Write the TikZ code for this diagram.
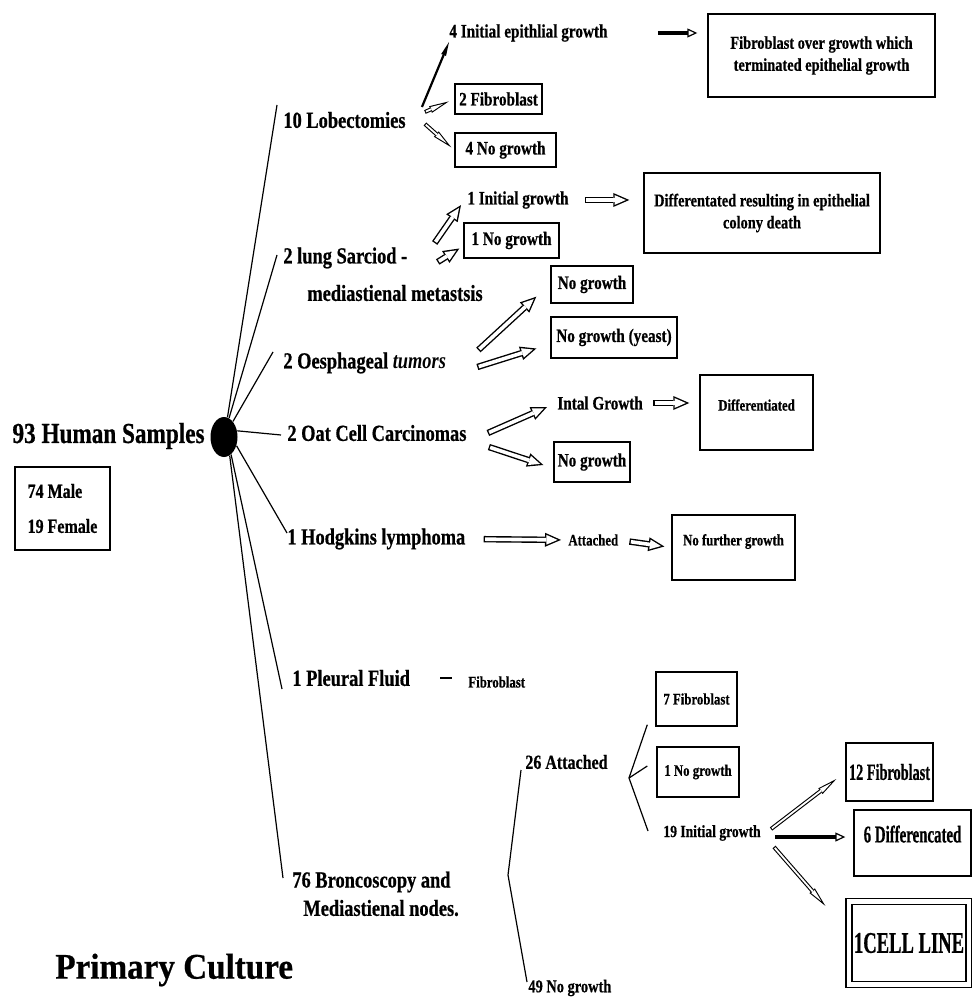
\documentclass[tikz,border=0pt]{standalone}
\usepackage{fontspec}
\setmainfont{Liberation Serif}[FakeStretch=0.8, BoldFeatures={FakeBold=0.6}]
\newfontfamily\widefont{Liberation Serif}[FakeStretch=0.92, BoldFeatures={FakeBold=0.6}]
\newfontfamily\narrowfont{Liberation Serif}[FakeStretch=0.62, BoldFeatures={FakeBold=0.6}]
\usetikzlibrary{arrows.meta,shapes.geometric}

\tikzset{
  spoke/.style={line width=0.6pt},
  box/.style={draw, line width=0.7pt, inner sep=0pt, align=center},
  big/.style={font=\bfseries\fontsize{14.5}{17}\selectfont, inner sep=0pt},
  lvlone/.style={font=\bfseries\fontsize{11.5}{13}\selectfont, anchor=west, inner sep=0pt},
  lvltwo/.style={font=\bfseries\fontsize{9.5}{11}\selectfont, inner sep=0pt},
  boxtext/.style={font=\bfseries\fontsize{9}{11}\selectfont},
  small/.style={font=\bfseries\fontsize{8}{10}\selectfont, inner sep=0pt},
  hollow/.style 2 args={line width=3.2pt, shorten <=#1, shorten >=#2,
    -{Triangle[length=8pt,width=7pt,line width=0pt]},
    postaction={draw=white, line width=1.8pt, shorten <=#1+0.7pt, shorten >=#2+1.75pt,
      -{Triangle[length=5.55pt,width=4.86pt,line width=0pt]}}},
  needle/.style 2 args={line width=2pt, shorten <=#1, shorten >=#2,
    -{Triangle[length=10pt,width=3.6pt,line width=0pt]},
    postaction={draw=white, line width=0.9pt, shorten <=#1+0.55pt, shorten >=#2+3.1pt,
      -{Triangle[length=6.35pt,width=2.3pt,line width=0pt]}}},
  dart/.style={line width=1.1pt, -{Triangle[length=7pt,width=2.6pt,line width=0pt]}},
  blackarrow/.style={line width=1.8pt, -{Triangle[open,length=5pt,width=4.5pt,line width=0.6pt]}},
}

\begin{document}
\begin{tikzpicture}[x=0.5pt,y=-0.5pt]
  \useasboundingbox (0,0) rectangle (972,999);

  % root
  \node[ellipse, fill, minimum width=13.5pt, minimum height=20pt, inner sep=0pt] (hub) at (224,437) {};
  \node[big, anchor=east] (samples) at (205,436) {93 Human Samples};
  \node[box, font=\bfseries\fontsize{10}{17.5}\selectfont, align=left,
        minimum width=47.5pt, minimum height=41.5pt] (sex) at (62.5,508.5) {74 Male\\19 Female};
  \node[font=\widefont\bfseries\fontsize{18}{20}\selectfont, anchor=west, inner sep=0pt] (prim) at (55,970) {Primary Culture};

  % first level
  \node[lvlone] (lob) at (283,120) {10 Lobectomies};
  \node[lvlone] (sarc) at (283,258) {2 lung Sarciod -};
  \node[lvlone] (sarcb) at (307,293) {mediastienal metastsis};
  \node[lvlone] (oes) at (283,363) {2 Oesphageal \textit{tumors}};
  \node[lvlone] (oat) at (287,433) {2 Oat Cell Carcinomas};
  \node[lvlone] (hodg) at (287,539) {1 Hodgkins lymphoma};
  \node[lvlone] (pleu) at (292,678) {1 Pleural Fluid};
  \node[lvlone] (bron) at (292,882) {76 Broncoscopy and};
  \node[lvlone] (bronb) at (303,908) {Mediastienal nodes.};

  \draw[spoke] (hub.80) -- ([shift={(-6,-15)}]lob.west);
  \draw[spoke] (hub.75) -- ([shift={(-6,-3)}]sarc.west);
  \draw[spoke] (hub.60) -- ([shift={(-10,-11)}]oes.west);
  \draw[spoke] (hub.25) -- ([shift={(-6,2)}]oat.west);
  \draw[spoke] (hub.-35) -- ([shift={(0,-6)}]hodg.west);
  \draw[spoke] (hub.-68) -- ([shift={(-10,11)}]pleu.west);
  \draw[spoke] (hub.-73) -- ([shift={(-9,-4)}]bron.west);

  % lobectomies
  \node[lvltwo, anchor=west] (init4) at (449,33) {4 Initial epithlial growth};
  \node[box, boxtext, minimum width=113.5pt, minimum height=41.5pt] (over) at (821.5,55.5)
       {Fibroblast over growth which\\terminated epithelial growth};
  \node[box, lvltwo, minimum width=43.5pt, minimum height=15pt] (fib2) at (498.5,99) {2 Fibroblast};
  \node[box, lvltwo, minimum width=50.5pt, minimum height=17pt] (nog4) at (505.5,150) {4 No growth};
  \draw[dart] ([shift={(16,-13)}]lob.east) -- (init4.south west);
  \draw[needle={0pt}{3pt}] ([shift={(19,-8)}]lob.east) -- (fib2.west);
  \draw[needle={0pt}{2pt}] ([shift={(19,4)}]lob.east) -- (nog4.west);
  \draw[blackarrow, shorten <=25pt, shorten >=5pt] (init4.east) -- (init4.east -| over.west);

  % sarciod
  \node[lvltwo, anchor=west] (init1) at (467,200) {1 Initial growth};
  \node[box, boxtext, minimum width=118pt, minimum height=40pt] (diffm) at (762,213)
       {Differentated resulting in epithelial\\colony death};
  \node[box, lvltwo, minimum width=47.5pt, minimum height=17.5pt] (nog1) at (511.5,240.5) {1 No growth};
  \draw[hollow={8pt}{7pt}] (init1.east) -- (init1.east -| diffm.west);
  \draw[hollow={0pt}{0pt}] ([shift={(27,-15)}]sarc.east) -- ([shift={(-6,-4)}]init1.south west);
  \draw[hollow={0pt}{0pt}] ([shift={(30,4)}]sarc.east) -- ([shift={(-4,8)}]nog1.west);

  % oesphageal
  \node[box, lvltwo, minimum width=41pt, minimum height=18.5pt] (noga) at (592,284.5) {No growth};
  \node[box, lvltwo, minimum width=63pt, minimum height=20.5pt] (nogb) at (614,337.5) {No growth (yeast)};
  \draw[hollow={0pt}{0pt}] ([shift={(32,-13)}]oes.east) -- ([shift={(-14,-7)}]noga.south west);
  \draw[hollow={0pt}{0pt}] ([shift={(31,4)}]oes.east) -- ([shift={(-14,11)}]nogb.west);

  % oat cell
  \node[lvltwo, anchor=west] (intal) at (557,403) {Intal Growth};
  \node[box, small, minimum width=56.5pt, minimum height=37.5pt, text height=5.6pt, text depth=7.5pt] (diff) at (756.5,412.5) {Differentiated};
  \node[box, lvltwo, minimum width=38pt, minimum height=20pt] (nogc) at (592,462) {No growth};
  \draw[hollow={0pt}{0pt}] ([shift={(21,0)}]oat.east) -- ([shift={(-10,4)}]intal.west);
  \draw[hollow={0pt}{0pt}] ([shift={(22,14)}]oat.east) -- ([shift={(-10,3)}]nogc.west);
  \draw[hollow={5pt}{5pt}] (intal.east) -- (intal.east -| diff.west);

  % hodgkins
  \node[small, anchor=west] (att) at (568,540) {Attached};
  \node[box, small, minimum width=61.5pt, minimum height=32.5pt, text height=5.4pt, text depth=7.5pt] (nfg) at (733.5,547.5) {No further growth};
  \draw[hollow={9pt}{3.5pt}] (hodg.east) -- (att.west);
  \draw[hollow={5.5pt}{3.5pt}] (att.east) -- (nfg.west);

  % pleural fluid
  \node[small, anchor=west] (fibpl) at (468,682) {Fibroblast};
  \draw[line width=0.8pt, shorten <=15pt, shorten >=8pt] (pleu.east) -- (pleu.east -| fibpl.west);

  % broncoscopy
  \node[font=\bfseries\fontsize{10}{12}\selectfont, anchor=west, inner sep=0pt] (att26) at (525,762) {26 Attached};
  \node[font=\bfseries\fontsize{9}{11}\selectfont, anchor=west, inner sep=0pt] (no49) at (528,988) {49 No growth};
  \coordinate (bfork) at (508,875);
  \draw[spoke] ([shift={(-4,8)}]att26.west) -- (bfork) -- ([shift={(-1,-6)}]no49.west);

  \node[box, small, minimum width=40.5pt, minimum height=27pt] (fib7) at (696.5,699) {7 Fibroblast};
  \node[box, small, minimum width=41pt, minimum height=25pt] (nog1b) at (698,772) {1 No growth};
  \node[font=\bfseries\fontsize{8.5}{10}\selectfont, anchor=west, inner sep=0pt] (init19) at (663,833) {19 Initial growth};
  \coordinate (afork) at (629,778);
  \draw[spoke] ([shift={(-8,-2)}]fib7.south west) -- (afork) -- ([shift={(-15,-2)}]init19.west);
  \draw[spoke] (afork) -- ([shift={(-9,-6)}]nog1b.west);

  \node[box, font=\narrowfont\bfseries\fontsize{11.5}{13}\selectfont, minimum width=43.5pt, minimum height=29pt] (fib12) at (889.5,772) {12 Fibroblast};
  \node[box, font=\narrowfont\bfseries\fontsize{12}{14}\selectfont, minimum width=58.5pt, minimum height=33pt, text height=8.4pt, text depth=9pt] (dif6) at (912.5,843) {6 Differencated};
  \node[box, double, double distance=2.3pt, font=\narrowfont\bfseries\fontsize{15}{17}\selectfont,
        minimum width=60pt, minimum height=41.5pt] (cell) at (909,943) {1CELL LINE};
  \draw[needle={0pt}{0pt}] ([shift={(10,-4)}]init19.east) -- ([shift={(-9,7)}]fib12.west);
  \draw[blackarrow] ([shift={(14,4)}]init19.east) -- ([shift={(-8,-6)}]dif6.west);
  \draw[needle={0pt}{0pt}] ([shift={(13,14)}]init19.east) -- ([shift={(-23,5)}]cell.north west);
\end{tikzpicture}
\end{document}
